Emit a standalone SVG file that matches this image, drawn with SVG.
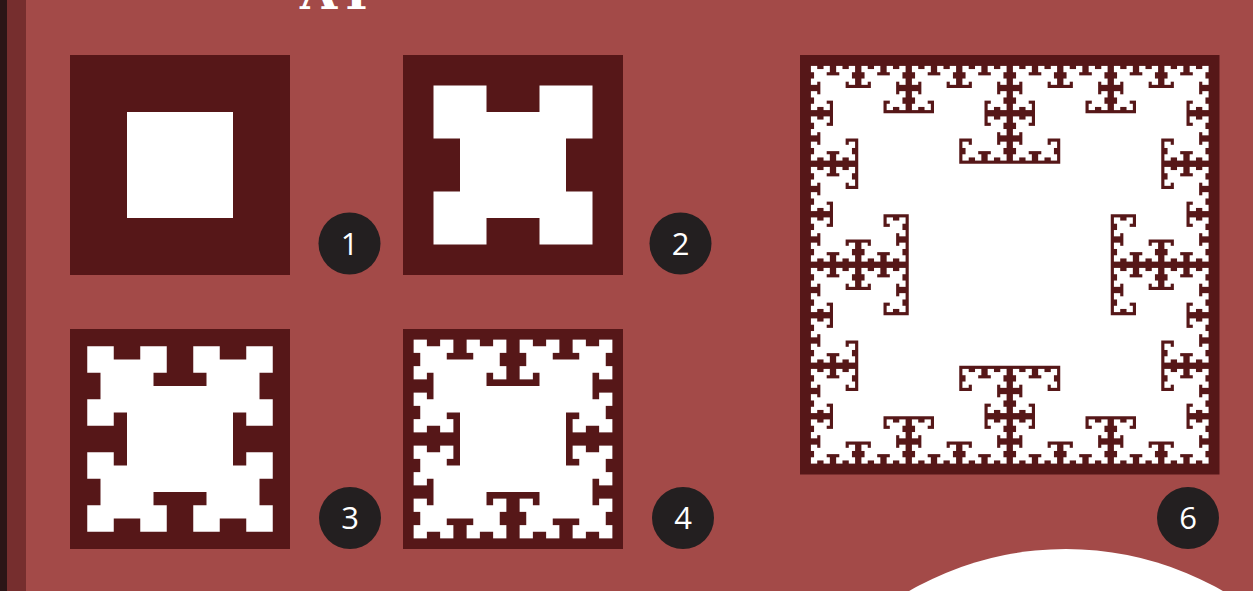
<svg xmlns="http://www.w3.org/2000/svg" xmlns:xlink="http://www.w3.org/1999/xlink" width="1253" height="591" viewBox="0 0 1253 591">
<style>
.bg{fill:#a34a48}
.box{fill:#561718}
.frac{fill:#ffffff}
.badge{fill:#231f20}
.num{fill:#ffffff;font-family:"Open Sans","Noto Sans",sans-serif;font-size:31px;text-anchor:middle}
.title{fill:#ffffff;font-family:"DejaVu Serif",serif;font-weight:bold;font-size:48px}
</style>
<defs>
<g id="t1"><rect x="-0.5" y="-0.5" width="1" height="1"/></g>
<g id="t2"><use href="#t1"/><use href="#t1" transform="translate(-0.5,-0.5) scale(0.5)"/><use href="#t1" transform="translate(0.5,-0.5) scale(0.5)"/><use href="#t1" transform="translate(-0.5,0.5) scale(0.5)"/><use href="#t1" transform="translate(0.5,0.5) scale(0.5)"/></g>
<g id="t3"><use href="#t1"/><use href="#t2" transform="translate(-0.5,-0.5) scale(0.5)"/><use href="#t2" transform="translate(0.5,-0.5) scale(0.5)"/><use href="#t2" transform="translate(-0.5,0.5) scale(0.5)"/><use href="#t2" transform="translate(0.5,0.5) scale(0.5)"/></g>
<g id="t4"><use href="#t1"/><use href="#t3" transform="translate(-0.5,-0.5) scale(0.5)"/><use href="#t3" transform="translate(0.5,-0.5) scale(0.5)"/><use href="#t3" transform="translate(-0.5,0.5) scale(0.5)"/><use href="#t3" transform="translate(0.5,0.5) scale(0.5)"/></g>
<g id="t5"><use href="#t1"/><use href="#t4" transform="translate(-0.5,-0.5) scale(0.5)"/><use href="#t4" transform="translate(0.5,-0.5) scale(0.5)"/><use href="#t4" transform="translate(-0.5,0.5) scale(0.5)"/><use href="#t4" transform="translate(0.5,0.5) scale(0.5)"/></g>
<g id="t6"><use href="#t1"/><use href="#t5" transform="translate(-0.5,-0.5) scale(0.5)"/><use href="#t5" transform="translate(0.5,-0.5) scale(0.5)"/><use href="#t5" transform="translate(-0.5,0.5) scale(0.5)"/><use href="#t5" transform="translate(0.5,0.5) scale(0.5)"/></g>
</defs>
<rect class="bg" x="0" y="0" width="1253" height="591"/>
<rect x="0" y="0" width="26" height="591" fill="#762e2e"/>
<rect x="0" y="0" width="7" height="591" fill="#2b1516"/>
<text class="title" x="300" y="9" letter-spacing="8">AI</text>
<circle cx="1066" cy="863" r="314" fill="#ffffff"/>
<g id="step1">
<rect class="box" x="70" y="55" width="220" height="220"/>
<use class="frac" href="#t1" transform="translate(180,165) scale(106)"/>
<circle class="badge" cx="349.5" cy="243.5" r="31"/>
<text class="num" x="349.5" y="254.5">1</text>
</g>
<g id="step2">
<rect class="box" x="403" y="55" width="220" height="220"/>
<use class="frac" href="#t2" transform="translate(513,165) scale(106)"/>
<circle class="badge" cx="680.5" cy="243.5" r="31"/>
<text class="num" x="680.5" y="254.5">2</text>
</g>
<g id="step3">
<rect class="box" x="70" y="329" width="220" height="220"/>
<use class="frac" href="#t3" transform="translate(180,439) scale(106)"/>
<circle class="badge" cx="350" cy="518" r="31"/>
<text class="num" x="350" y="529">3</text>
</g>
<g id="step4">
<rect class="box" x="403" y="329" width="220" height="220"/>
<use class="frac" href="#t4" transform="translate(513,439) scale(106)"/>
<circle class="badge" cx="683" cy="518" r="31"/>
<text class="num" x="683" y="529">4</text>
</g>
<g id="step6">
<rect class="box" x="800" y="55" width="419.5" height="419.5"/>
<use class="frac" href="#t6" transform="translate(1009.75,264.75) scale(202)"/>
<circle class="badge" cx="1188" cy="518" r="31"/>
<text class="num" x="1188" y="529">6</text>
</g>
<g id="connectors"/>
</svg>
